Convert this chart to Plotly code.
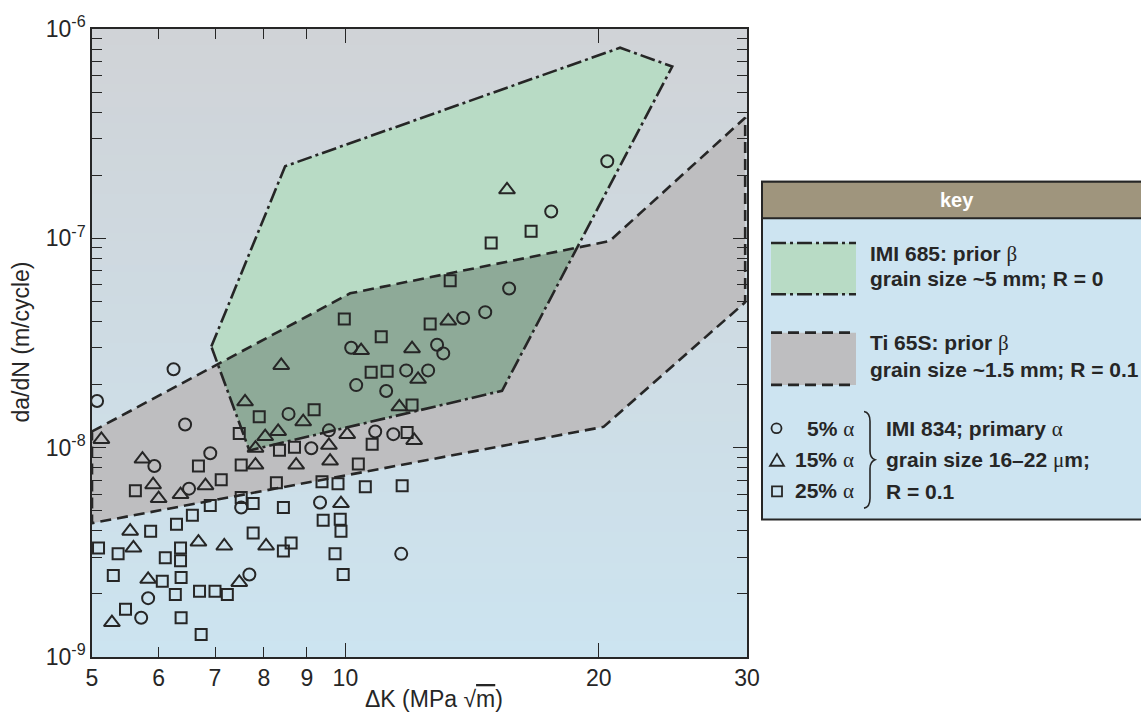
import plotly.graph_objects as go
import math

# ---------------- data ----------------
# IMI 834, 5% primary alpha (circles): dK (MPa sqrt m), da/dN (m/cycle)
alpha5_dk = [5.07, 6.25, 6.45, 5.93, 6.91, 6.52, 7.52, 9.33, 5.83, 5.72, 7.69, 11.65,
             8.56, 9.56, 9.11, 10.85, 11.40, 10.16, 10.30, 11.18, 11.81, 12.54, 12.85,
             13.07, 13.80, 14.66, 15.65, 17.56, 20.47]
alpha5_dadn = [1.67e-8, 2.37e-8, 1.29e-8, 8.17e-9, 9.41e-9, 6.37e-9, 5.18e-9, 5.47e-9, 1.91e-9, 1.54e-9, 2.48e-9, 3.11e-9,
               1.45e-8, 1.21e-8, 9.94e-9, 1.195e-8, 1.16e-8, 3.00e-8, 1.99e-8, 1.865e-8, 2.34e-8, 2.34e-8, 3.10e-8,
               2.82e-8, 4.16e-8, 4.44e-8, 5.76e-8, 1.343e-7, 2.336e-7]

# 15% primary alpha (triangles)
alpha15_dk = [5.13, 7.60, 8.39, 8.91, 8.03, 8.32, 7.82, 7.82, 8.74, 9.56, 9.59, 10.05, 10.44,
              5.74, 5.91, 6.00, 6.37, 6.82, 9.88, 5.55, 5.60, 6.69, 7.18, 8.05, 5.83, 7.48, 5.28,
              12.00, 12.20, 11.59, 12.07, 13.25, 15.56]
alpha15_dadn = [1.095e-8, 1.655e-8, 2.47e-8, 1.33e-8, 1.13e-8, 1.195e-8, 9.94e-9, 8.26e-9, 8.26e-9, 1.026e-8, 8.63e-9, 1.157e-8, 2.91e-8,
                8.82e-9, 6.65e-9, 5.71e-9, 5.97e-9, 6.58e-9, 5.41e-9, 3.99e-9, 3.32e-9, 3.54e-9, 3.39e-9, 3.39e-9, 2.35e-9, 2.27e-9, 1.46e-9,
                2.97e-8, 2.12e-8, 1.567e-8, 1.083e-8, 4.03e-8, 1.706e-7]

# 25% primary alpha (squares)
alpha25_dk = [9.97, 11.03, 10.73, 11.21, 9.18, 7.90, 7.48, 8.35, 8.70, 10.76, 10.36, 7.52, 6.69, 12.61,
              12.00, 11.84, 8.28, 9.38, 9.80, 10.56, 11.68, 13.32, 14.90, 16.62, 5.63, 7.12, 7.52, 7.77,
              6.91, 6.58, 6.30, 5.87, 5.09, 5.37, 6.37, 6.37, 6.11, 7.77, 8.44, 9.41, 9.86, 9.88, 9.72,
              9.94, 8.44, 8.62, 5.30, 6.06, 6.38, 6.28, 6.71, 7.00, 7.24, 5.48, 6.38, 6.74]
alpha25_dadn = [4.12e-8, 3.39e-8, 2.29e-8, 2.32e-8, 1.517e-8, 1.406e-8, 1.169e-8, 9.72e-9, 1.004e-8, 1.037e-8, 8.35e-9, 8.26e-9, 8.17e-9, 3.90e-8,
                1.60e-8, 1.182e-8, 6.80e-9, 6.87e-9, 6.72e-9, 6.51e-9, 6.58e-9, 6.28e-8, 9.49e-8, 1.081e-7, 6.23e-9, 7.02e-9, 5.78e-9, 5.41e-9,
                5.29e-9, 4.75e-9, 4.31e-9, 3.99e-9, 3.32e-9, 3.11e-9, 3.32e-9, 2.88e-9, 2.98e-9, 3.91e-9, 5.18e-9, 4.50e-9, 4.55e-9, 3.99e-9, 3.11e-9,
                2.48e-9, 3.21e-9, 3.50e-9, 2.45e-9, 2.30e-9, 2.40e-9, 1.99e-9, 2.06e-9, 2.06e-9, 1.99e-9, 1.69e-9, 1.54e-9, 1.28e-9]

# IMI 685 band (dash-dot outline)
imi685_dk = [6.93, 8.48, 21.2, 24.45, 15.35, 7.69]
imi685_dadn = [3.04e-8, 2.21e-7, 8.14e-7, 6.62e-7, 1.87e-8, 9.7e-9]

# Ti 65S band (dashed outline)
ti65s_dk = [5.0, 10.13, 20.6, 29.85, 29.85, 20.26, 5.0]
ti65s_dadn = [1.195e-8, 5.46e-8, 9.70e-8, 3.77e-7, 4.95e-8, 1.257e-8, 4.36e-9]

x_tickvals = [5, 6, 7, 8, 9, 10, 20, 30]
x_ticktext = ["5", "6", "7", "8", "9", "10", "20", "30"]
y_tickvals = [1e-9, 1e-8, 1e-7, 1e-6]
y_ticktext = ["10<sup>-9</sup>", "10<sup>-8</sup>", "10<sup>-7</sup>", "10<sup>-6</sup>"]

# ---------------- styles ----------------
GREEN = "#b8dbc5"
GRAY = "#bebec0"
DARKGREEN = "#8eaa98"
INK = "#262626"
DASH = "11px,6px"
DASHDOT = "15px,4px,3px,4px"
FONT = "Liberation Sans, Arial, sans-serif"
SERIF = "Liberation Serif, Times New Roman, serif"

W, H = 1141, 716
PL, PR, PT, PB = 92, 747, 20, 657


def fx(x):
    return (x - PL) / (PR - PL)


def fy(y):
    return (PB - y) / (PB - PT)


# intersection of the two bands (Sutherland-Hodgman in log space)
def clip_polygon(subject, clipper):
    def area(p):
        n = len(p)
        return sum(p[i][0] * p[(i + 1) % n][1] - p[(i + 1) % n][0] * p[i][1] for i in range(n)) / 2

    s = 1 if area(clipper) > 0 else -1

    def inside(p, a, b):
        return s * ((b[0] - a[0]) * (p[1] - a[1]) - (b[1] - a[1]) * (p[0] - a[0])) >= 0

    def inter(p, q, a, b):
        x1, y1 = p
        x2, y2 = q
        x3, y3 = a
        x4, y4 = b
        den = (x1 - x2) * (y3 - y4) - (y1 - y2) * (x3 - x4)
        t = ((x1 - x3) * (y3 - y4) - (y1 - y3) * (x3 - x4)) / den
        return (x1 + t * (x2 - x1), y1 + t * (y2 - y1))

    out = subject
    for i in range(len(clipper)):
        a, b = clipper[i], clipper[(i + 1) % len(clipper)]
        inp, out = out, []
        for j in range(len(inp)):
            p, q = inp[j - 1], inp[j]
            if inside(q, a, b):
                if not inside(p, a, b):
                    out.append(inter(p, q, a, b))
                out.append(q)
            elif inside(p, a, b):
                out.append(inter(p, q, a, b))
    return out


ti_log = [(math.log10(x), math.log10(y)) for x, y in zip(ti65s_dk, ti65s_dadn)]
imi_log = [(math.log10(x), math.log10(y)) for x, y in zip(imi685_dk, imi685_dadn)]
ov = clip_polygon(ti_log, imi_log)
ov_dk = [10 ** p[0] for p in ov]
ov_dadn = [10 ** p[1] for p in ov]

fig = go.Figure()

# band fills
fig.add_trace(go.Scatter(x=ti65s_dk + ti65s_dk[:1], y=ti65s_dadn + ti65s_dadn[:1], mode="lines",
                         fill="toself", fillcolor=GRAY, line=dict(width=0), hoverinfo="skip", showlegend=False))
fig.add_trace(go.Scatter(x=imi685_dk + imi685_dk[:1], y=imi685_dadn + imi685_dadn[:1], mode="lines",
                         fill="toself", fillcolor=GREEN, line=dict(width=0), hoverinfo="skip", showlegend=False))
fig.add_trace(go.Scatter(x=ov_dk + ov_dk[:1], y=ov_dadn + ov_dadn[:1], mode="lines",
                         fill="toself", fillcolor=DARKGREEN, line=dict(width=0), hoverinfo="skip", showlegend=False))
# band outlines
fig.add_trace(go.Scatter(x=ti65s_dk + ti65s_dk[:1], y=ti65s_dadn + ti65s_dadn[:1], mode="lines",
                         line=dict(color=INK, width=2.6, dash=DASH), hoverinfo="skip", showlegend=False))
fig.add_trace(go.Scatter(x=imi685_dk + imi685_dk[:1], y=imi685_dadn + imi685_dadn[:1], mode="lines",
                         line=dict(color=INK, width=2.6, dash=DASHDOT), hoverinfo="skip", showlegend=False))

# data points
fig.add_trace(go.Scatter(x=alpha5_dk, y=alpha5_dadn, mode="markers", showlegend=False,
                         marker=dict(symbol="circle-open", size=12, color=INK, line=dict(width=2, color=INK))))
fig.add_trace(go.Scatter(x=alpha15_dk, y=alpha15_dadn, mode="markers", showlegend=False,
                         marker=dict(symbol="triangle-up-open", size=14, color=INK, line=dict(width=2, color=INK))))
fig.add_trace(go.Scatter(x=alpha25_dk, y=alpha25_dadn, mode="markers", showlegend=False,
                         marker=dict(symbol="square-open", size=11, color=INK, line=dict(width=2, color=INK))))
# empty trace that carries the overlay axis for the long ticks at 10 and 20
fig.add_trace(go.Scatter(x=[], y=[], xaxis="x2", mode="markers", showlegend=False, hoverinfo="skip"))

shapes = []
# vertical background gradient
N = 80
top = (208, 211, 215)
bot = (204, 228, 240)
for i in range(N):
    t = (i + 0.5) / N
    c = tuple(round(bot[k] + (top[k] - bot[k]) * t) for k in range(3))
    shapes.append(dict(type="rect", xref="paper", yref="paper", x0=0, x1=1, y0=i / N, y1=(i + 1) / N + 0.003,
                       fillcolor="rgb(%d,%d,%d)" % c, line=dict(width=0), layer="below"))

# key box
shapes.append(dict(type="rect", xref="paper", yref="paper", x0=fx(762), x1=fx(1165), y0=fy(517.5), y1=fy(175),
                   fillcolor="#cde4f1", line=dict(color=INK, width=2)))
shapes.append(dict(type="rect", xref="paper", yref="paper", x0=fx(762), x1=fx(1165), y0=fy(212), y1=fy(175),
                   fillcolor="#9f957d", line=dict(color=INK, width=2)))
# swatches
for (y0, y1, col, dsh) in [(237, 289, GREEN, DASHDOT), (328, 381, GRAY, DASH)]:
    shapes.append(dict(type="rect", xref="paper", yref="paper", x0=fx(771), x1=fx(856), y0=fy(y1), y1=fy(y0),
                       fillcolor=col, line=dict(width=0)))
    for yy in (y0, y1):
        shapes.append(dict(type="line", xref="paper", yref="paper", x0=fx(771), x1=fx(856), y0=fy(yy), y1=fy(yy),
                           line=dict(color=INK, width=2.6, dash=dsh)))

# key symbols
shapes.append(dict(type="circle", xref="paper", yref="paper", x0=fx(771.5), x1=fx(781.5), y0=fy(430), y1=fy(420),
                   line=dict(color=INK, width=1.8)))


def path_px(segs):
    out = []
    for cmd, pts in segs:
        out.append(cmd + " " + " ".join("%.5f,%.5f" % (fx(a), fy(b)) for a, b in pts))
    return " ".join(out)


shapes.append(dict(type="path", xref="paper", yref="paper",
                   path=path_px([("M", [(770, 463)]), ("L", [(784, 463)]), ("L", [(777, 451)])]) + " Z",
                   line=dict(color=INK, width=1.8)))
shapes.append(dict(type="rect", xref="paper", yref="paper", x0=fx(772), x1=fx(782), y0=fy(494), y1=fy(484),
                   line=dict(color=INK, width=1.8)))
# brace
shapes.append(dict(type="path", xref="paper", yref="paper",
                   path=path_px([("M", [(864, 408)]), ("Q", [(870, 409), (870, 418)]), ("L", [(870, 448)]),
                                 ("Q", [(870, 455), (875, 457)]), ("Q", [(870, 459), (870, 466)]),
                                 ("L", [(870, 496)]), ("Q", [(870, 505), (864, 506)])]),
                   line=dict(color=INK, width=1.6)))

annotations = []


def ann(text, x, y, size=21, xanchor="left", color=INK, **kw):
    annotations.append(dict(text=text, x=fx(x), y=fy(y), xref="paper", yref="paper", showarrow=False,
                            xanchor=xanchor, yanchor="middle", font=dict(family=FONT, size=size, color=color), **kw))


def g(ch):
    return "<span style='font-family:%s;font-weight:normal'>%s</span>" % (SERIF, ch)


ann("<b>key</b>", 957, 193, size=20, xanchor="center", color="white")
ann("<b>IMI 685: prior </b>" + g("β"), 868, 248)
ann("<b>grain size ~5 mm; R = 0</b>", 868, 273)
ann("<b>Ti 65S: prior </b>" + g("β"), 868, 339)
ann("<b>grain size ~1.5 mm; R = 0.1</b>", 868, 365)
ann("<b>5% </b>" + g("α"), 856, 426, xanchor="right")
ann("<b>15% </b>" + g("α"), 856, 457, xanchor="right")
ann("<b>25% </b>" + g("α"), 856, 489, xanchor="right")
ann("<b>IMI 834; primary </b>" + g("α"), 884, 426)
ann("<b>grain size 16–22 </b>" + g("μ") + "<b>m;</b>", 884, 457)
ann("<b>R = 0.1</b>", 884, 489)

# axis titles
ann("ΔK (MPa √<span style='text-decoration:overline'>m</span>)", 434, 700, size=23, xanchor="center")
ann("da/dN (m/cycle)", 21, 338, size=23, xanchor="center", textangle=-90)

axis_common = dict(type="log", showline=True, linecolor=INK, linewidth=1.6, ticks="inside",
                   tickcolor=INK, tickwidth=1.4, mirror="ticks", showgrid=False, zeroline=False,
                   tickfont=dict(family=FONT, size=23, color=INK))

fig.update_layout(
    width=W, height=H,
    margin=dict(l=PL, r=W - PR, t=PT, b=H - PB, pad=0),
    paper_bgcolor="white", plot_bgcolor="#cfdce4",
    showlegend=False,
    xaxis=dict(range=[math.log10(5), math.log10(30)], tickmode="array", tickvals=x_tickvals,
               ticktext=x_ticktext, ticklen=10, **axis_common),
    xaxis2=dict(type="log", overlaying="x", range=[math.log10(5), math.log10(30)], tickmode="array",
                tickvals=[10, 20], ticks="inside", ticklen=14, tickwidth=1.4, tickcolor=INK,
                showticklabels=False, showline=False, showgrid=False, zeroline=False, mirror="ticks",
                anchor="y", side="bottom"),
    yaxis=dict(range=[-9, -6], tickmode="array", tickvals=y_tickvals, ticktext=y_ticktext, ticklen=14,
               minor=dict(tickvals=[m * 10 ** e for e in (-9, -8, -7) for m in range(2, 10)],
                          ticks="inside", ticklen=10, tickcolor=INK, tickwidth=1.4, showgrid=False),
               **axis_common),
    shapes=shapes,
    annotations=annotations,
)

fig.write_html("out.html")
